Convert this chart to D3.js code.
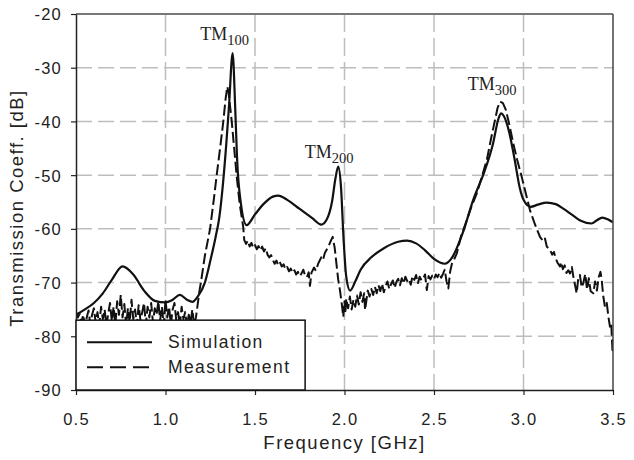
<!DOCTYPE html>
<html><head><meta charset="utf-8">
<script src="https://cdn.jsdelivr.net/npm/d3@7"></script>
<style>
body{margin:0;background:#fff;}
</style></head>
<body><svg id="c" width="634" height="460"></svg>
<script>
const xTicks = [0.5,1.0,1.5,2.0,2.5,3.0,3.5];
const yTicks = [-20,-30,-40,-50,-60,-70,-80,-90];
const seriesNames = ["Simulation","Measurement"];
const modeLabels = [["TM","100",1.375,-27.3],["TM","200",1.965,-48.4],["TM","300",2.875,-36.3]];

const simulation = [
[0.5,-76.0],[0.55,-75.0],[0.6,-73.8],[0.65,-72],[0.7,-69.5],[0.76,-67.0],[0.82,-68.5],[0.88,-71.5],
[0.94,-73.4],[1.0,-73.7],[1.04,-73.2],[1.08,-72.3],[1.12,-73.2],[1.15,-73.6],[1.18,-72.6],[1.22,-70],
[1.25,-66],[1.28,-61.5],[1.30,-58],[1.32,-52],[1.34,-44],[1.355,-37],[1.375,-27.3],[1.39,-38],
[1.40,-47],[1.42,-55],[1.453,-59.3],[1.5,-57.3],[1.55,-55.3],[1.6,-54],[1.63,-53.8],[1.68,-54.6],
[1.75,-56.3],[1.82,-58],[1.87,-59.2],[1.90,-58.3],[1.93,-55],[1.95,-50.5],[1.965,-48.4],[1.98,-52],
[1.995,-62],[2.01,-69],[2.031,-71.5],[2.06,-69.8],[2.09,-67.6],[2.15,-65.3],[2.22,-63.6],[2.3,-62.4],
[2.35,-62.2],[2.4,-62.7],[2.45,-64],[2.5,-65.6],[2.56,-66.5],[2.6,-65.4],[2.66,-60.8],[2.72,-54.5],
[2.78,-49.5],[2.83,-44.1],[2.86,-39.5],[2.875,-38.5],[2.89,-39],[2.92,-42],[2.95,-47],[2.98,-52.5],
[3.0,-54.6],[3.04,-55.9],[3.08,-55.5],[3.13,-55.1],[3.18,-55.4],[3.22,-56.2],[3.28,-57.6],[3.32,-58.5],
[3.38,-59.0],[3.41,-58.4],[3.44,-57.9],[3.47,-58.2],[3.5,-58.8]
];

const measurement = [
[0.50,-75.5],[0.51,-76.5],[0.52,-75.8],[0.53,-77.5],[0.54,-76],[0.55,-78],[0.56,-76.5],[0.57,-75.2],
[0.58,-77.8],[0.59,-76],[0.60,-74.8],[0.61,-77.5],[0.62,-75.5],[0.63,-78],[0.64,-74.5],[0.65,-76.8],
[0.66,-75],[0.67,-78],[0.68,-75.8],[0.69,-73.8],[0.70,-77.2],[0.71,-74.5],[0.72,-77.8],[0.73,-73.5],
[0.74,-76],[0.75,-72.3],[0.76,-76.5],[0.77,-74],[0.78,-78],[0.79,-74.8],[0.80,-77.5],[0.81,-73.2],
[0.82,-76.8],[0.83,-75],[0.84,-78],[0.85,-74.2],[0.86,-77],[0.87,-75.5],[0.88,-73.8],[0.89,-77.8],
[0.90,-74.5],[0.91,-76.5],[0.92,-73.8],[0.93,-77.5],[0.94,-74.8],[0.95,-76],[0.96,-73.5],[0.97,-77],
[0.98,-74.5],[0.99,-78],[1.00,-73.2],[1.01,-76.5],[1.02,-74.5],[1.03,-77.8],[1.04,-75],[1.05,-73.8],
[1.06,-77],[1.07,-75.5],[1.08,-78],[1.09,-74.5],[1.10,-76.8],[1.11,-75.5],[1.12,-78],[1.13,-76],
[1.14,-77.5],[1.15,-75],[1.16,-78],[1.17,-76.5],[1.18,-74],[1.19,-71.5],[1.20,-69.5],[1.22,-65],
[1.249,-60],[1.27,-54.5],[1.286,-50],[1.305,-45],[1.323,-40],[1.335,-36],[1.345,-33.5],[1.352,-34.5],
[1.37,-40],[1.385,-45.5],[1.397,-50],[1.415,-55.5],[1.434,-59.6],[1.44,-62.1],[1.45,-62.8],[1.46,-62.2],
[1.47,-63.3],[1.48,-62.6],[1.49,-63.5],[1.50,-63],[1.51,-63.8],[1.52,-63.2],[1.53,-64],[1.54,-63.3],
[1.55,-64.2],[1.56,-63.6],[1.57,-64.8],[1.58,-65.3],[1.59,-64.9],[1.60,-65.8],[1.61,-66.5],[1.62,-65.9],
[1.63,-66.8],[1.64,-66.3],[1.65,-67],[1.66,-66.6],[1.67,-67.5],[1.68,-67.1],[1.69,-67.9],[1.70,-67.4],
[1.71,-68.2],[1.72,-67.7],[1.73,-68.5],[1.74,-68],[1.75,-68.8],[1.76,-68.3],[1.77,-67.6],[1.78,-68.7],
[1.79,-69],[1.80,-68.1],[1.807,-70.6],[1.815,-68.2],[1.83,-67.2],[1.84,-67.8],[1.854,-66.4],[1.87,-65.3],
[1.88,-65.8],[1.89,-64.5],[1.90,-63.9],[1.91,-63.3],[1.92,-62.5],[1.934,-61.5],[1.945,-63.5],[1.955,-66.5],
[1.965,-69.5],[1.975,-71.5],[1.985,-74],[1.993,-76.4],[2.00,-73.5],[2.005,-75.7],[2.01,-73],[2.02,-74.8],
[2.03,-72.6],[2.04,-75],[2.05,-73.2],[2.06,-74.5],[2.07,-72.4],[2.08,-74.1],[2.09,-71.8],[2.10,-73.6],
[2.11,-72],[2.115,-75.1],[2.13,-71.5],[2.14,-72.6],[2.15,-71.2],[2.16,-72.3],[2.17,-70.8],[2.18,-72],
[2.19,-70.5],[2.20,-71.6],[2.21,-70.2],[2.22,-71.8],[2.23,-70.6],[2.24,-69.8],[2.25,-71.2],[2.26,-70.3],
[2.27,-69.6],[2.28,-71],[2.29,-69.9],[2.30,-69.3],[2.31,-70.5],[2.32,-69.2],[2.33,-70.2],[2.34,-68.9],
[2.35,-69.7],[2.36,-69.3],[2.37,-70.4],[2.38,-68.8],[2.39,-69.5],[2.40,-68.6],[2.41,-70.1],[2.42,-68.9],
[2.43,-69.6],[2.44,-69.2],[2.45,-68.5],[2.46,-71.4],[2.47,-68.8],[2.48,-69.4],[2.49,-68.7],[2.50,-69.3],
[2.51,-68.5],[2.52,-69],[2.53,-68.2],[2.54,-69.1],[2.55,-68.4],[2.56,-67.6],[2.57,-69.8],[2.58,-71.1],
[2.59,-68],[2.60,-66.5],[2.61,-65.9],[2.627,-64.6],[2.65,-61.5],[2.683,-58.4],[2.71,-55.8],[2.739,-53.4],
[2.77,-50],[2.795,-47.2],[2.82,-43],[2.841,-39.7],[2.855,-37.5],[2.869,-36.3],[2.885,-36.6],[2.902,-37.9],
[2.92,-40.5],[2.943,-44.1],[2.965,-47.2],[2.99,-50.3],[3.01,-53],[3.036,-56.5],[3.06,-58.8],[3.092,-61.5],
[3.11,-62.3],[3.12,-61.8],[3.13,-63.3],[3.148,-63.9],[3.16,-64.8],[3.17,-64.3],[3.18,-65.5],[3.19,-66.3],
[3.204,-67],[3.21,-66.2],[3.22,-67.5],[3.23,-66.8],[3.24,-68.2],[3.25,-67.7],[3.26,-68.3],[3.27,-67.1],
[3.28,-69.2],[3.29,-70.8],[3.297,-72],[3.305,-69.5],[3.315,-68.6],[3.325,-70.9],[3.334,-70.1],[3.345,-68.4],
[3.355,-71.3],[3.365,-69.2],[3.375,-71.6],[3.39,-72],[3.40,-69.8],[3.41,-71.5],[3.42,-69],[3.43,-68],
[3.437,-69.5],[3.445,-72.4],[3.455,-74.5],[3.465,-73.8],[3.475,-76.5],[3.483,-78.2],[3.49,-77.5],[3.497,-82.6],
[3.50,-80.5]
];

const SANS = "'Liberation Sans',Arial,sans-serif";
const SERIF = "'Liberation Serif','Times New Roman',serif";
const svg = d3.select("#c");
const m = {l:76, t:14, r:21, b:70};
const W = 634 - m.l - m.r, H = 460 - m.t - m.b;
const x = d3.scaleLinear().domain([0.5,3.5]).range([0,W]);
const y = d3.scaleLinear().domain([-90,-20]).range([H,0]);
const g = svg.append("g").attr("transform",`translate(${m.l},${m.t})`);

g.append("defs").append("clipPath").attr("id","clip").append("rect").attr("width",W).attr("height",H);

// grid
g.append("g").selectAll("line").data(yTicks.filter(d=>d>-90 && d<-20)).join("line")
  .attr("x1",0).attr("x2",W).attr("y1",d=>y(d)).attr("y2",d=>y(d))
  .attr("stroke","#bdbdbd").attr("stroke-width",1.5).attr("stroke-dasharray","16,6");
g.append("g").selectAll("line").data(xTicks.filter(d=>d>0.5 && d<3.5)).join("line")
  .attr("y1",0).attr("y2",H).attr("x1",d=>x(d)).attr("x2",d=>x(d))
  .attr("stroke","#bdbdbd").attr("stroke-width",1.5).attr("stroke-dasharray","18,6");

// curves
const lineSmooth = d3.line().x(d=>x(d[0])).y(d=>y(d[1])).curve(d3.curveMonotoneX);
const lineRaw = d3.line().x(d=>x(d[0])).y(d=>y(d[1]));
const cg = g.append("g").attr("clip-path","url(#clip)");
cg.append("path").datum(measurement).attr("d",lineRaw).attr("fill","none")
  .attr("stroke","#111").attr("stroke-width",2).attr("stroke-dasharray","11,4").attr("stroke-linejoin","round");
cg.append("path").datum(simulation).attr("d",lineSmooth).attr("fill","none")
  .attr("stroke","#111").attr("stroke-width",2.2).attr("stroke-linejoin","round");

// frame
g.append("line").attr("x1",0).attr("x2",W).attr("y1",0).attr("y2",0).attr("stroke","#777").attr("stroke-width",2);
g.append("line").attr("x1",W).attr("x2",W).attr("y1",0).attr("y2",H).attr("stroke","#444").attr("stroke-width",1.5);

// axes
const xAxis = g.append("g").attr("transform",`translate(0,${H})`)
  .call(d3.axisBottom(x).tickValues(xTicks).tickFormat(d3.format(".1f")).tickSize(5).tickSizeOuter(0));
const yAxis = g.append("g")
  .call(d3.axisLeft(y).tickValues(yTicks).tickFormat(d=>d).tickSize(5).tickSizeOuter(0));
[xAxis,yAxis].forEach(a=>{
  a.attr("font-family",null).attr("font-size",null);
  a.select(".domain").attr("stroke","#222").attr("stroke-width",1.5);
  a.selectAll(".tick line").attr("stroke","#222").attr("stroke-width",1.2);
  a.selectAll("text").attr("fill","#222").style("font-size","16.5px").style("letter-spacing","1.2px")
   .style("font-family",SANS);
});
xAxis.selectAll("text").attr("dy","0").attr("y",35);
yAxis.selectAll("text").attr("x",-14).attr("dy","0.36em");

// titles
svg.append("text").attr("x",m.l+W/2).attr("y",449).attr("text-anchor","middle")
  .style("font-family",SANS).style("font-size","18.5px").style("letter-spacing","1.5px")
  .attr("fill","#222").text("Frequency [GHz]");
svg.append("text").attr("transform",`translate(23,${m.t+H/2+6}) rotate(-90)`).attr("text-anchor","middle")
  .style("font-family",SANS).style("font-size","18.5px").style("letter-spacing","1.5px")
  .attr("fill","#222").text("Transmission Coeff. [dB]");

// mode labels
const lbl = g.append("g");
const lblOff = [[-8,-13],[-9,-9],[-9,-12]];
modeLabels.forEach((d,i)=>{
  const t = lbl.append("text").attr("x",x(d[2])+lblOff[i][0]).attr("y",y(d[3])+lblOff[i][1])
    .attr("text-anchor","middle").style("font-family",SERIF)
    .style("font-size","18px").attr("fill","#222");
  t.append("tspan").text(d[0]);
  t.append("tspan").style("font-size","14.5px").attr("dy",5).text(d[1]);
});

// legend
const lg = g.append("g");
lg.append("rect").attr("x",0).attr("y",y(-77)).attr("width",x(1.78)).attr("height",H-y(-77))
  .attr("fill","#fff").attr("stroke","#111").attr("stroke-width",1.5);
seriesNames.forEach((n,i)=>{
  const yy = y(-77) + 22 + i*25;
  lg.append("line").attr("x1",11).attr("x2",76).attr("y1",yy).attr("y2",yy)
    .attr("stroke","#111").attr("stroke-width",2).attr("stroke-dasharray",i? "16,7":null);
  lg.append("text").attr("x",92).attr("y",yy+6).style("font-family",SANS).style("font-size","17.5px")
    .attr("fill","#222").style("letter-spacing","1.4px").text(n);
});
</script></body></html>
